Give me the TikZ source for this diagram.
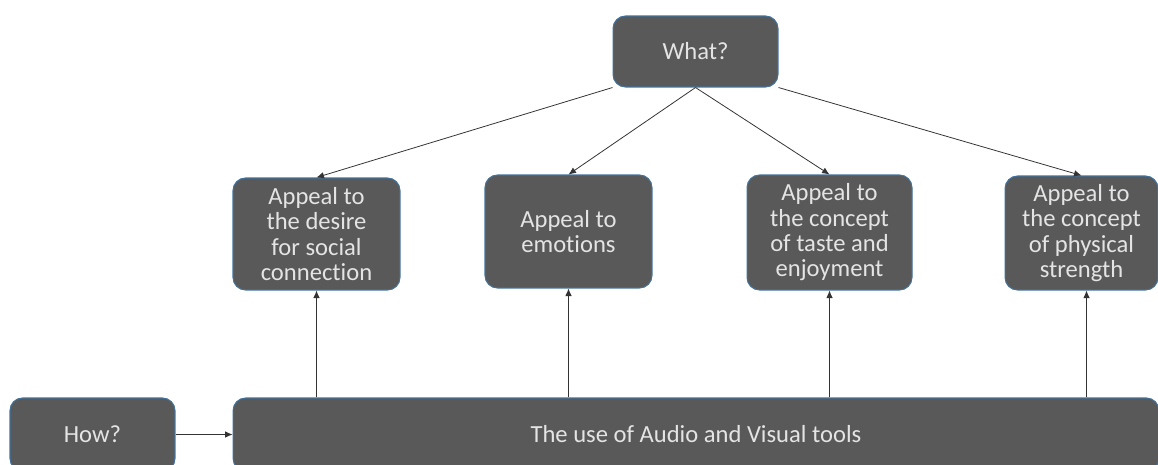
\documentclass[tikz,border=0pt]{standalone}
\usepackage{fontspec}
\setmainfont{Carlito}[Ligatures={NoCommon}]
\usetikzlibrary{arrows.meta}

\begin{document}
\begin{tikzpicture}[x=0.02cm, y=-0.02cm]

		% Colors
		\definecolor{boxfill}{RGB}{89,89,89} % DarkGray
		\definecolor{boxline}{RGB}{65,113,156} % SteelBlue
		\definecolor{boxtext}{RGB}{228,228,228} % LightGray

		\tikzset{
			ibox/.style={draw=boxline, line width=0.6pt, fill=boxfill, rounded corners=0.25cm,
				text=boxtext, align=center, inner sep=0pt,
				font=\fontsize{14}{14.4}\selectfont},
			link/.style={draw=black!80, line width=0.45pt, -{Latex[length=1.5mm, width=1.3mm]}}
		}

		\useasboundingbox (0,0) rectangle (1158,464);
		\clip (0,0) rectangle (1158,464);

		% Top
		\node (what) [ibox, minimum width=3.3cm, minimum height=1.42cm] at (695.5,51.5) {What?};

		% Appeals
		\node (social) [ibox, minimum width=3.34cm, minimum height=2.24cm] at (316.5,234) {Appeal to\\the desire\\for social\\connection};
		\node (emotion) [ibox, minimum width=3.34cm, minimum height=2.26cm] at (568.5,231.5) {Appeal to\\emotions};
		\node (taste) [ibox, minimum width=3.3cm, minimum height=2.3cm] at (829.5,232.5) {Appeal to\\the concept\\of taste and\\enjoyment};
		\node (strength) [ibox, minimum width=3.06cm, minimum height=2.28cm] at (1081.5,233) {Appeal to\\the concept\\of physical\\strength};

		% Bottom
		\node (how) [ibox, minimum width=3.3cm, minimum height=1.46cm] at (92.5,434.5) {How?};
		\node (tools) [ibox, minimum width=18.52cm, minimum height=1.46cm] at (696,434.5) {The use of Audio and Visual tools};

		% Connections
		\draw[link] (what.south west) -- (social.north);
		\draw[link] (what.south) -- (emotion.north);
		\draw[link] (what.south) -- (taste.north);
		\draw[link] (what.south east) -- (strength.north);

		\draw[link] (how) -- (tools);
		\draw[link] (tools.north -| social) -- (social.south);
		\draw[link] (tools.north -| emotion) -- (emotion.south);
		\draw[link] (tools.north -| taste) -- (taste.south);
		\draw[link] ([xshift=0.1cm]tools.north -| strength) -- ([xshift=0.1cm]strength.south);

	\end{tikzpicture}
\end{document}
